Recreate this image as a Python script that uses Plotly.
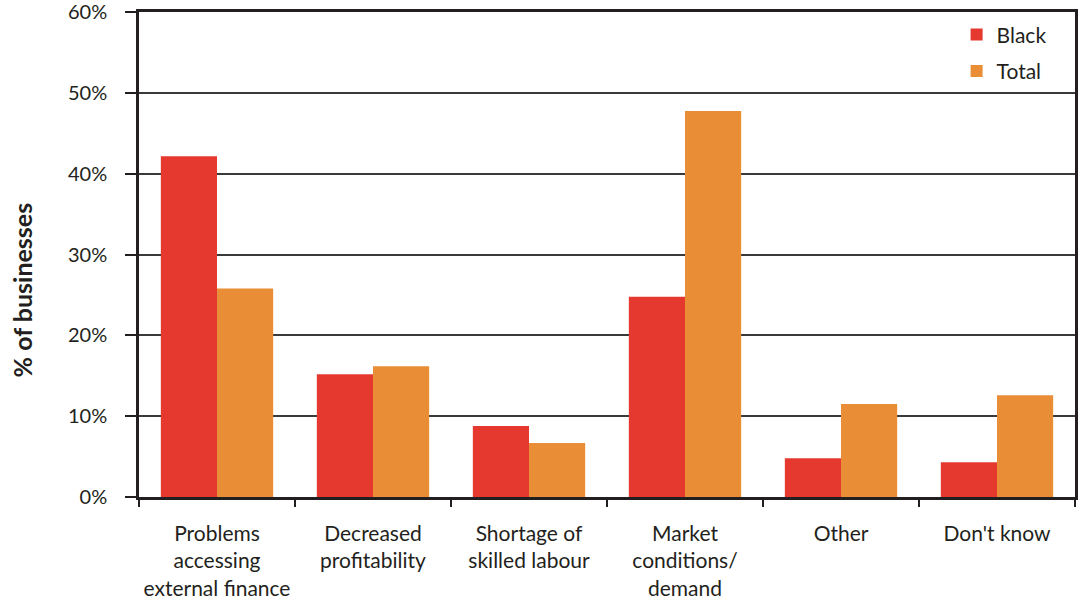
import plotly.graph_objects as go

categories = [
    "Problems<br>accessing<br>external finance",
    "Decreased<br>profitability",
    "Shortage of<br>skilled labour",
    "Market<br>conditions/<br>demand",
    "Other",
    "Don't know",
]
black_values = [42.2, 15.2, 8.8, 24.8, 4.8, 4.3]
total_values = [25.8, 16.2, 6.7, 47.8, 11.5, 12.6]
y_tick_values = [0, 10, 20, 30, 40, 50, 60]
y_tick_labels = ["0%", "10%", "20%", "30%", "40%", "50%", "60%"]

FONT = "Lato"
TEXT = "#231f20"

fig = go.Figure()
fig.add_trace(go.Bar(x=categories, y=black_values, name="Black",
                     marker=dict(color="#E5382F", line=dict(width=0)), legendgroup="a"))
fig.add_trace(go.Bar(x=categories, y=total_values, name="Total",
                     marker=dict(color="#EA8D37", line=dict(width=0)), legendgroup="b"))

fig.update_layout(
    width=1085, height=607,
    margin=dict(l=139, r=10, t=12, b=110, autoexpand=False),
    paper_bgcolor="white", plot_bgcolor="white",
    barmode="group", bargap=0.28, bargroupgap=0,
    font=dict(family=FONT, size=21, color=TEXT),
    showlegend=True,
    legend=dict(x=0.975, y=0.995, xanchor="right", yanchor="top",
                bgcolor="rgba(0,0,0,0)", font=dict(size=21, color=TEXT),
                tracegroupgap=6, itemwidth=30),
    annotations=[dict(
        text="<b>% of businesses</b>", textangle=-90,
        xref="paper", yref="paper", x=-0.125, y=0.426,
        xanchor="center", yanchor="middle", showarrow=False,
        font=dict(family=FONT, size=25, color=TEXT),
    )],
)
fig.update_xaxes(
    showline=True, linecolor="#231f20", linewidth=2.5, mirror=True,
    ticks="outside", tickson="boundaries", ticklen=7, tickwidth=2, tickcolor="#231f20",
    tickfont=dict(size=21, color=TEXT), ticklabelstandoff=16, tickangle=0,
    automargin=False, showgrid=False,
)
fig.update_yaxes(
    range=[0, 60.05], tickvals=y_tick_values, ticktext=y_tick_labels,
    showline=True, linecolor="#231f20", linewidth=2.5, mirror=True,
    ticks="outside", ticklen=11, tickwidth=2, tickcolor="#231f20",
    tickfont=dict(size=20, color=TEXT), ticklabelstandoff=14,
    ticklabeloverflow="allow", automargin=False,
    showgrid=True, gridcolor="#3a3a3a", gridwidth=1.5,
    zeroline=False,
)

fig.write_html("out.html")
